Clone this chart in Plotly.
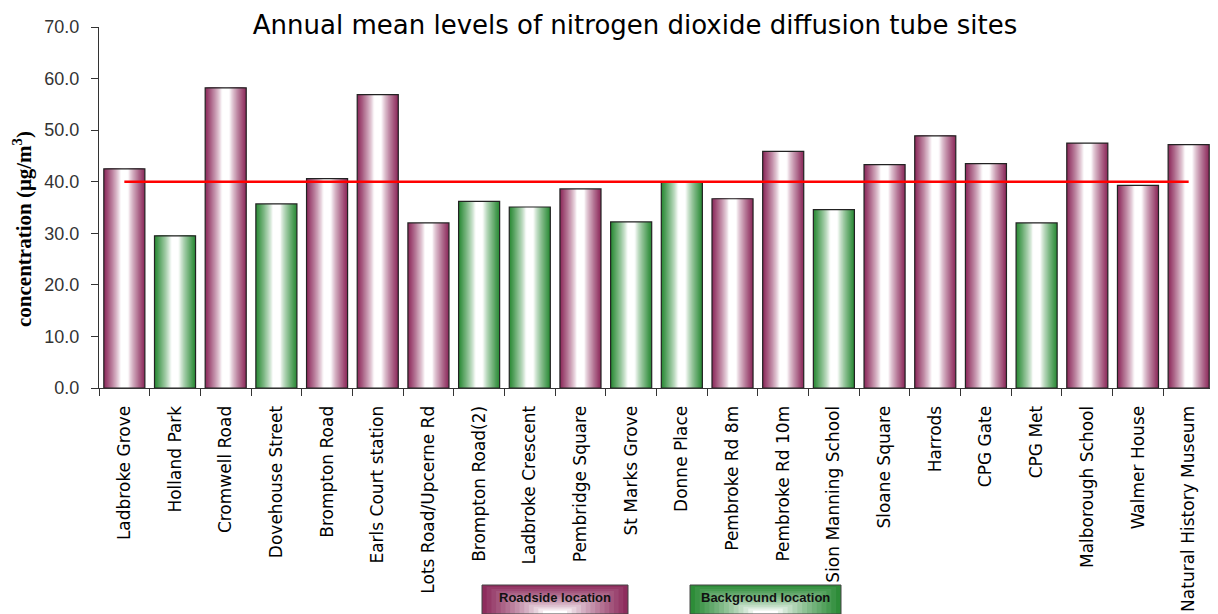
import plotly.graph_objects as go

# ---------------- data ----------------
sites = [
    "Ladbroke Grove", "Holland Park", "Cromwell Road", "Dovehouse Street",
    "Brompton Road", "Earls Court station", "Lots Road/Upcerne Rd",
    "Brompton Road(2)", "Ladbroke Crescent", "Pembridge Square",
    "St Marks Grove", "Donne Place", "Pembroke Rd 8m", "Pembroke Rd 10m",
    "Sion Manning School", "Sloane Square", "Harrods", "CPG Gate", "CPG Met",
    "Malborough School", "Walmer House", "Natural History Museum",
]
values = [42.5, 29.5, 58.2, 35.7, 40.6, 56.9, 32.0, 36.2, 35.1, 38.6, 32.2,
          40.0, 36.7, 45.9, 34.6, 43.3, 48.9, 43.5, 32.0, 47.5, 39.3, 47.2]
site_type = ["Roadside", "Background", "Roadside", "Background", "Roadside",
             "Roadside", "Roadside", "Background", "Background", "Roadside",
             "Background", "Background", "Roadside", "Roadside", "Background",
             "Roadside", "Roadside", "Roadside", "Background", "Roadside",
             "Roadside", "Roadside"]
limit_value = 40.0
y_ticks = [0, 10, 20, 30, 40, 50, 60, 70]
legend_labels = ["Roadside location", "Background location"]
title_text = "Annual mean levels of nitrogen dioxide diffusion tube sites"

# ---------------- styling ----------------
EDGE = {"Roadside": (138, 38, 88), "Background": (38, 136, 50)}
W = 0.81
N_LAYERS = 18


def mix(rgb, f):
    r, g, b = rgb
    return "rgb(%d,%d,%d)" % (round(255 + (r - 255) * f),
                              round(255 + (g - 255) * f),
                              round(255 + (b - 255) * f))


def profile(t):
    f = (t - 0.18) / 0.82
    f = max(0.0, min(1.0, f))
    return f ** 0.8


fig = go.Figure()

# gradient bars: nested overlaid bars of decreasing width
for k in range(N_LAYERS):
    frac = (N_LAYERS - k) / N_LAYERS
    t = (N_LAYERS - k - 0.5) / N_LAYERS
    cols = [mix(EDGE[s], profile(t)) for s in site_type]
    fig.add_trace(go.Bar(
        x=sites, y=values, width=W * frac,
        marker=dict(color=cols, line=dict(width=0)),
        showlegend=False, hoverinfo="skip" if k else "x+y",
    ))

# outline
fig.add_trace(go.Bar(
    x=sites, y=values, width=W,
    marker=dict(color="rgba(0,0,0,0)", line=dict(width=1.2, color="#222")),
    showlegend=False, hoverinfo="skip",
))

# limit line
fig.add_trace(go.Scatter(
    x=sites, y=[limit_value] * len(sites), mode="lines",
    line=dict(color="#ff0000", width=2.5), showlegend=False,
))

# ---------------- layout ----------------
OFF = 8  # page body margin
FW, FH = 1218 - OFF, 614 - OFF
PX0, PX1, PY0, PY1 = 99, 1214, 27, 388  # plot area in screen px
L, R, T, B = PX0 - OFF, FW - (PX1 - OFF), PY0 - OFF, FH - (PY1 - OFF)
PW, PH = PX1 - PX0, PY1 - PY0


def px_x(x):
    return (x - PX0) / PW


def px_y(y):
    return (PY1 - y) / PH


shapes = []
annotations = []
legend_boxes = [(482, 628, "Roadside"), (690, 841, "Background")]
M = 14
for (x0, x1, kind), label in zip(legend_boxes, legend_labels):
    top, bot = 585, 614
    halfw = (x1 - x0) / 2
    h = bot - top
    for k in range(M):
        s = k / M
        f = 1 - (k + 0.5) / M
        f = max(0.0, min(1.0, (f - 0.05) / 0.95)) ** 0.8
        shapes.append(dict(
            type="rect", xref="paper", yref="paper",
            x0=px_x(x0 + s * halfw * 0.9), x1=px_x(x1 - s * halfw * 0.9),
            y0=px_y(top + s * h * 0.95), y1=px_y(bot),
            fillcolor=mix(EDGE[kind], f), line=dict(width=0), layer="above",
        ))
    shapes.append(dict(
        type="rect", xref="paper", yref="paper",
        x0=px_x(x0), x1=px_x(x1), y0=px_y(top), y1=px_y(bot),
        fillcolor="rgba(0,0,0,0)", line=dict(width=1, color="#444"),
        layer="above",
    ))
    annotations.append(dict(
        text="<b>%s</b>" % label, xref="paper", yref="paper",
        x=px_x((x0 + x1) / 2), y=px_y(597), showarrow=False,
        xanchor="center", yanchor="middle",
        font=dict(family="Liberation Sans Narrow, Liberation Sans, Arial",
                  size=13, color="#111"),
    ))

annotations.append(dict(
    text="<b>concentration (μg/m<sup>3</sup>)</b>",
    xref="paper", yref="paper", x=px_x(22), y=px_y(229),
    showarrow=False, textangle=-90, xanchor="center", yanchor="middle",
    font=dict(family="Liberation Serif, Times New Roman, serif",
              size=21, color="#000"),
))

fig.update_layout(
    width=FW, height=FH,
    margin=dict(l=L, r=R, t=T, b=B, autoexpand=False),
    paper_bgcolor="white", plot_bgcolor="white",
    barmode="overlay", bargap=0.19,
    title=dict(text=title_text, x=(635 - OFF) / FW, xanchor="center",
               y=1 - (25 - OFF) / FH, yanchor="middle", yref="container",
               font=dict(family="DejaVu Sans, Verdana, sans-serif",
                         size=26, color="#000")),
    xaxis=dict(
        type="category", categoryorder="array", categoryarray=sites,
        range=[-0.5, len(sites) - 0.5],
        showline=True, linecolor="#333", linewidth=1,
        ticks="outside", tickson="boundaries", ticklen=7, tickcolor="#333",
        tickangle=-90, showgrid=False, automargin=False,
        ticklabelstandoff=10,
        tickfont=dict(family="DejaVu Sans, Verdana, sans-serif",
                      size=17, color="#000"),
    ),
    yaxis=dict(
        range=[0, 70], tickvals=y_ticks,
        ticktext=["%.1f" % v for v in y_ticks],
        showline=True, linecolor="#333", linewidth=1,
        ticks="outside", ticklen=7, tickcolor="#333",
        ticklabelstandoff=8,
        showgrid=False, zeroline=False, automargin=False,
        tickfont=dict(family="Liberation Sans, Arial, sans-serif",
                      size=18, color="#333"),
    ),
    shapes=shapes,
    annotations=annotations,
)

fig.write_html("out.html")
